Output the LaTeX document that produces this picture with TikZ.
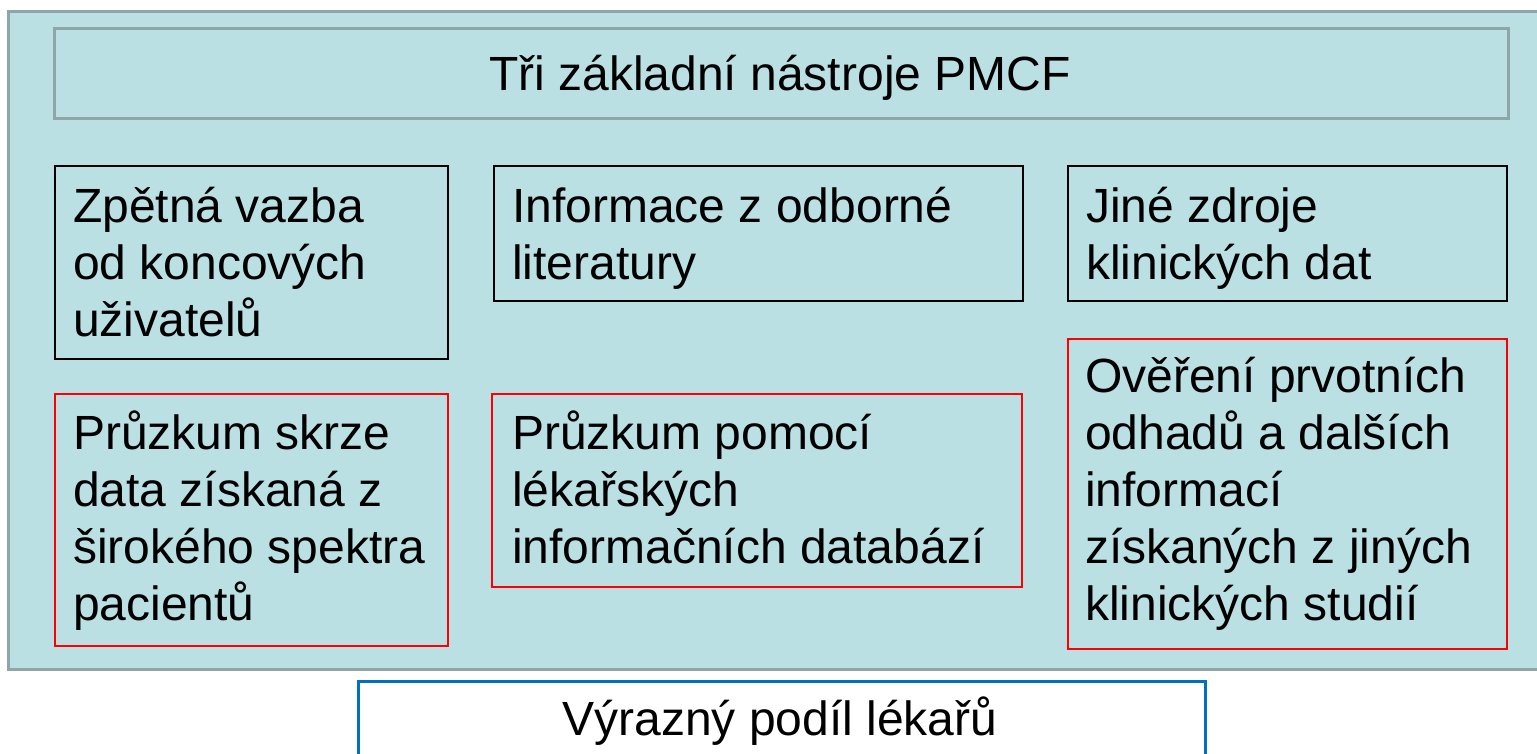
\documentclass[tikz,border=0pt]{standalone}
\usepackage{fontspec}
\setmainfont{Liberation Sans}
\definecolor{panel}{HTML}{BAE0E3}
\definecolor{framegray}{HTML}{8FA6A9}
\definecolor{bluec}{HTML}{0070C0}
\begin{document}
\begin{tikzpicture}[x=1pt,y=-1pt,
  frame/.style={draw=framegray, line width=3pt, fill=panel},
  titlebox/.style={draw=framegray, line width=2.5pt, anchor=north west, inner sep=0pt},
  blackbox/.style={draw=black, line width=1.6pt, anchor=north west, inner sep=0pt},
  redbox/.style={draw=red, line width=1.6pt, anchor=north west, inner sep=0pt},
  bluebox/.style={draw=bluec, line width=2.5pt, fill=white, anchor=north west, inner sep=0pt},
  bigfont/.style={font=\fontsize{48}{57}\selectfont},
  txt/.style={bigfont, anchor=north west, inner sep=0pt, align=left},
  ctxt/.style={bigfont, anchor=base, inner sep=0pt}]
\useasboundingbox (0,0) rectangle (1537,753);
\clip (0,0) rectangle (1537,753);
\fill[white] (0,0) rectangle (1537,753);
\draw[frame] (8,11) rectangle (1560,669);
% title
\node[titlebox, minimum width=1454pt, minimum height=90pt] (title) at (53,27) {};
\node[ctxt] (titletext) at (780,90) {Tři základní nástroje PMCF};
% boxes
\node[blackbox, minimum width=393pt, minimum height=193pt] (b1) at (54,165) {};
\node[blackbox, minimum width=529pt, minimum height=135pt] (b2) at (493,165) {};
\node[blackbox, minimum width=439pt, minimum height=135pt] (b3) at (1067,165) {};
\node[redbox, minimum width=393pt, minimum height=252pt] (r1) at (54,393) {};
\node[redbox, minimum width=530pt, minimum height=193pt] (r2) at (491,393) {};
\node[redbox, minimum width=439pt, minimum height=310pt] (r3) at (1067,338) {};
% texts
\node[txt] (t1) at ([shift={(19,17)}]b1.north west) {\strut Zpětná vazba\\od koncových\\uživatelů};
\node[txt] (t2) at ([shift={(19,17)}]b2.north west) {\strut Informace z odborné\\literatury};
\node[txt] (t3) at ([shift={(19,17)}]b3.north west) {\strut Jiné zdroje\\klinických dat};
\node[txt] (t4) at ([shift={(19,16)}]r1.north west) {\strut Průzkum skrze\\data získaná z\\širokého spektra\\pacientů};
\node[txt] (t5) at ([shift={(21,16)}]r2.north west) {\strut Průzkum pomocí\\lékařských\\informačních databází};
\node[txt] (t6) at ([shift={(18,14)}]r3.north west) {\strut Ověření prvotních\\odhadů a dalších\\informací\\získaných z jiných\\klinických studií};
% bottom
\node[bluebox, minimum width=847pt, minimum height=90pt] (bottom) at (357,680) {};
\node[ctxt] (bottomtext) at (780,735) {Výrazný podíl lékařů};
\end{tikzpicture}
\end{document}
